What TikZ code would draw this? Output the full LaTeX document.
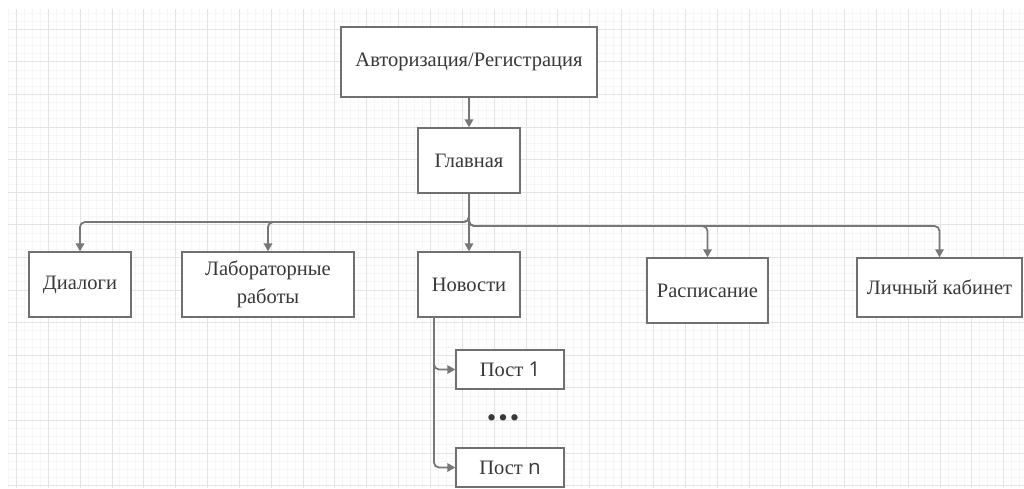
\documentclass[tikz,border=0pt]{standalone}
\usepackage{fontspec}
\setmainfont{Liberation Serif}
\newfontfamily\sansf{Open Sans}
\newfontfamily\dejavu{DejaVu Sans}
\usetikzlibrary{arrows.meta}
\definecolor{minorc}{HTML}{F6F6F6}
\definecolor{majorc}{HTML}{E4E4E4}
\definecolor{linec}{HTML}{777777}
\definecolor{boxc}{HTML}{707070}
\definecolor{textc}{HTML}{383838}
\tikzset{
  minorg/.style={draw=minorc, line width=1pt},
  majorg/.style={draw=majorc, line width=1pt},
  box/.style={draw=boxc, line width=1.4pt, fill=white, rectangle, inner sep=0pt,
    text=textc, font=\fontsize{20.5}{28}\selectfont, align=center},
  conn/.style={draw=linec, line width=1.8pt, rounded corners=5pt,
    -{Triangle[length=8pt,width=8.5pt]}},
}
\begin{document}
\begin{tikzpicture}[x=1pt,y=-1pt]
\useasboundingbox (0,0) rectangle (1024,488);
\fill[white] (0,0) rectangle (1024,488);
% grid
\foreach \k in {-5,...,122} {
  \pgfmathsetmacro{\xx}{48.3+7.9625*\k}
  \draw[minorg] (\xx,9) -- (\xx,488);
}
\foreach \k in {-2,...,56} {
  \pgfmathsetmacro{\yy}{29.3+8.15*\k}
  \draw[minorg] (8,\yy) -- (1024,\yy);
}
\foreach \k in {-4,0,...,120} {
  \pgfmathsetmacro{\xx}{48.3+7.9625*\k}
  \draw[majorg] (\xx,9) -- (\xx,488);
}
\foreach \k in {0,4,...,56} {
  \pgfmathsetmacro{\yy}{29.3+8.15*\k}
  \draw[majorg] (8,\yy) -- (1024,\yy);
}
% nodes
\node[box, minimum width=256pt, minimum height=70pt] (auth) at (469,62) {Авторизация/Регистрация};
\node[box, minimum width=102pt, minimum height=65pt] (glav) at (469,160.5) {Главная};
\node[box, minimum width=102pt, minimum height=65pt] (dial) at (80,284.5) {Диалоги};
\node[box, minimum width=172pt, minimum height=65pt] (lab) at (268,284.5) {Лабораторные\\работы};
\node[box, minimum width=102pt, minimum height=65pt] (news) at (469,284.5) {Новости};
\node[box, minimum width=121pt, minimum height=65pt] (rasp) at (707.5,290.5) {Расписание};
\node[box, minimum width=165pt, minimum height=59pt] (lk) at (939.5,287.5) {Личный кабинет};
\node[box, minimum width=108pt, minimum height=39pt] (post1) at (510,369.5) {Пост {\sansf 1}};
\node[box, minimum width=108pt, minimum height=39pt] (postn) at (510,467.5) {Пост {\sansf n}};
\node[text=textc, font=\dejavu\bfseries\fontsize{18}{20}\selectfont, inner sep=0pt] (dots) at (503,420) {•••};
% coordinates
\coordinate (busL) at (469,222);
\coordinate (busR) at (469,226);
\coordinate (nb) at (434,317);
% connectors
\draw[conn] (auth.south) -- (glav.north);
\draw[conn] (glav.south) -- (busL) -| (dial.north);
\draw[conn] (glav.south) -- (busL) -| (lab.north);
\draw[conn] (glav.south) -- (news.north);
\draw[conn] (glav.south) -- (busR) -| (rasp.north);
\draw[conn] (glav.south) -- (busR) -| (lk.north);
\draw[conn] (nb) |- (post1.west);
\draw[conn] (nb) |- (postn.west);
\end{tikzpicture}
\end{document}
